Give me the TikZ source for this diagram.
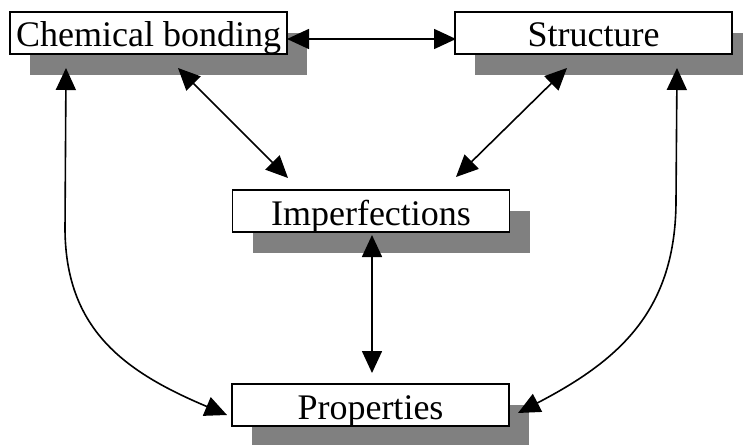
\documentclass[tikz,border=0pt]{standalone}
\usepackage{fontspec}
\setmainfont{Liberation Serif}
\usetikzlibrary{arrows.meta,shadows}
\definecolor{shadowgray}{HTML}{808080}
\tikzset{
  topicbox/.style={draw=black, fill=white, line width=1.5pt,
    minimum width=277pt, inner xsep=0pt, inner ysep=0pt,
    text height=35pt, text depth=7pt,
    font=\fontsize{36}{40}\selectfont,
    drop shadow={shadow xshift=20pt, shadow yshift=-21pt, fill=shadowgray, opacity=1}},
  link/.style={line width=1.6pt, {Triangle[length=22pt,width=20pt]}-{Triangle[length=22pt,width=20pt]}}
}
\begin{document}
\begin{tikzpicture}[x=1pt,y=-1pt]
\useasboundingbox (0,0) rectangle (743,444);
\node[topicbox] (chem) at (148.5,33) {Chemical bonding};
\node[topicbox] (struct) at (593.5,33) {Structure};
\node[topicbox] (imp) at (371,211) {Imperfections};
\node[topicbox] (prop) at (370.5,405) {Properties};
% connector end points
\coordinate (hL) at (287,39);
\coordinate (hR) at (456,39);
\coordinate (dL1) at (178,68);
\coordinate (dL2) at (288,178);
\coordinate (dR1) at (567,68);
\coordinate (dR2) at (456,177);
\coordinate (v1) at (372,235);
\coordinate (v2) at (372,373);
\coordinate (cL1) at (66,68);
\coordinate (cL2) at (227,415);
\coordinate (cR1) at (677,68);
\coordinate (cR2) at (518,413);
\draw[link] (hL) -- (hR);
\draw[link] (dL1) -- (dL2);
\draw[link] (dR1) -- (dR2);
\draw[link] (v1) -- (v2);
\draw[link] (cL1) -- (65,230) .. controls (66,330) and (125,372) .. (cL2);
\draw[link] (cR1) -- (676,200) .. controls (676,310) and (620,360) .. (cR2);
\end{tikzpicture}
\end{document}
